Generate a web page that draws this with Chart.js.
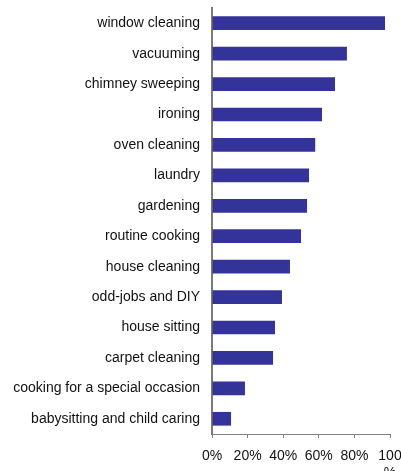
<!DOCTYPE html>
<html>
<head>
<meta charset="utf-8">
<script src="https://cdn.jsdelivr.net/npm/chart.js@4/dist/chart.umd.min.js"></script>
<style>
  html, body { margin: 0; padding: 0; background: #fff; }
  #wrap { width: 401px; height: 471px; position: relative; }
</style>
</head>
<body>
<div id="wrap"><canvas id="c" width="401" height="471"></canvas></div>
<script>
// Share of respondents per household service (percent)
const categories = [
  'window cleaning',
  'vacuuming',
  'chimney sweeping',
  'ironing',
  'oven cleaning',
  'laundry',
  'gardening',
  'routine cooking',
  'house cleaning',
  'odd-jobs and DIY',
  'house sitting',
  'carpet cleaning',
  'cooking for a special occasion',
  'babysitting and child caring'
];
const shares = [97.2, 75.8, 69.1, 61.8, 58.0, 54.5, 53.4, 50.0, 43.8, 39.3, 35.4, 34.3, 18.5, 10.7];
const tickValues = [0, 20, 40, 60, 80, 100];

const FONT = { family: '"Liberation Sans", Arial, sans-serif', size: 14 };

new Chart(document.getElementById('c'), {
  type: 'bar',
  data: {
    labels: categories,
    datasets: [{
      data: shares,
      backgroundColor: '#333399',
      borderWidth: 0,
      categoryPercentage: 1,
      barPercentage: 0.45
    }]
  },
  options: {
    indexAxis: 'y',
    responsive: false,
    animation: false,
    events: [],
    layout: { padding: { top: 8, right: 11, left: 0, bottom: 0 } },
    plugins: { legend: { display: false }, tooltip: { enabled: false } },
    scales: {
      x: {
        min: 0,
        max: 100,
        afterBuildTicks: s => { s.ticks = tickValues.map(v => ({ value: v })); },
        afterFit: s => { s.height = 37; s.paddingLeft = 0; s.paddingRight = 0; },
        grid: { drawOnChartArea: false, drawTicks: true, tickLength: 4, color: '#808080' },
        border: { display: true, color: '#808080', width: 1 },
        ticks: {
          autoSkip: false,
          maxRotation: 0,
          minRotation: 0,
          padding: 10,
          color: '#111',
          font: FONT,
          callback: v => v === 100 ? ['100', '%'] : v + '%'
        }
      },
      y: {
        afterFit: s => { s.width = 212; s.paddingTop = 0; s.paddingBottom = 0; },
        grid: { display: false, drawTicks: false },
        border: { display: true, color: '#7a7a7a', width: 2 },
        ticks: { padding: 12, color: '#111', font: FONT, autoSkip: false }
      }
    }
  }
});
</script>
</body>
</html>
